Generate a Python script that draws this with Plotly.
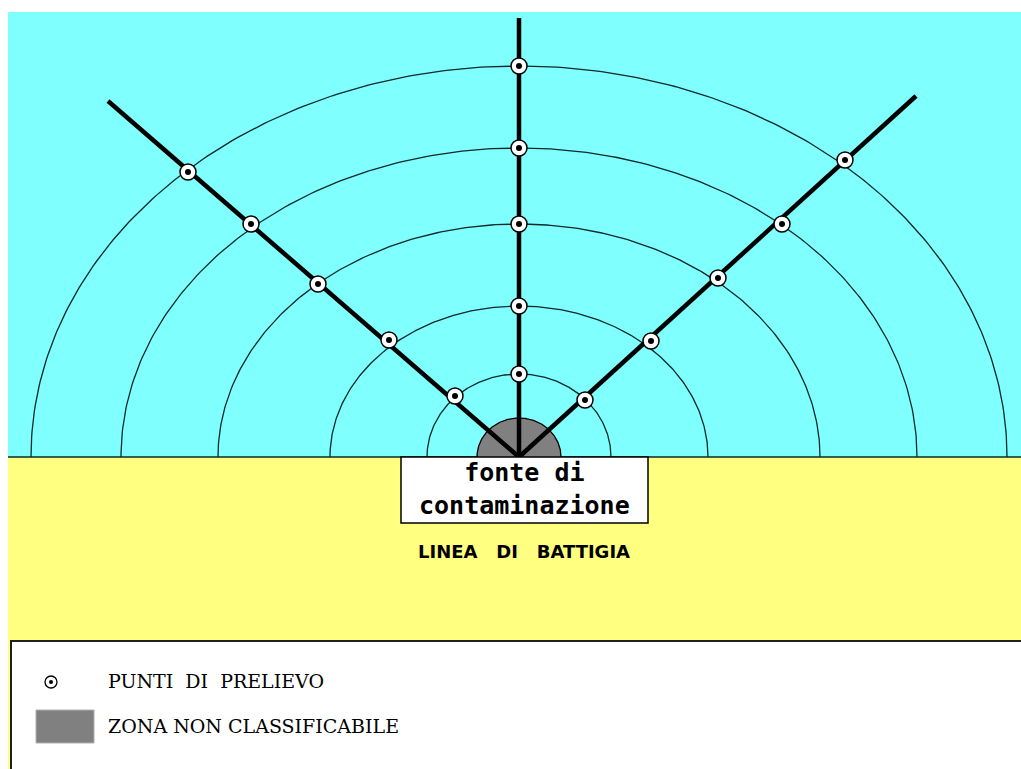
import numpy as np
import plotly.graph_objects as go

# ---- data (pixel-like units, origin at the contamination source, y upward) ----
arc_radius_x = [92, 189, 301, 398, 488]
arc_radius_y = [83, 151, 233, 309, 391]

ray_names = ["sinistra", "centro", "destra"]
ray_end_x = [-411, 0, 397]
ray_end_y = [356, 439, 361]

sample_x = [-64, -130, -201, -268, -331,
            0, 0, 0, 0, 0,
            66, 132, 199, 263, 326]
sample_y = [61, 117, 173, 233, 285,
            83, 151, 233, 309, 391,
            57, 116, 179, 233, 297]

zone_radius_x = 42
zone_radius_y = 39

source_label = "fonte di<br>contaminazione"
shore_label = "LINEA   DI   BATTIGIA"
legend_labels = ["PUNTI\u00a0\u00a0DI\u00a0\u00a0PRELIEVO", "ZONA NON CLASSIFICABILE"]

CYAN = "#80FFFF"
YELLOW = "#FFFF80"
GREY = "#808080"

fig = go.Figure()

# arcs
t = np.linspace(0, np.pi, 241)
for rx, ry in zip(arc_radius_x, arc_radius_y):
    fig.add_trace(go.Scatter(x=rx * np.cos(t), y=ry * np.sin(t), mode="lines",
                             line=dict(color="#0a2a2a", width=1.3),
                             hoverinfo="skip", showlegend=False))

# non-classifiable zone
fig.add_trace(go.Scatter(x=zone_radius_x * np.cos(t), y=zone_radius_y * np.sin(t),
                         mode="lines", fill="toself", fillcolor=GREY,
                         line=dict(color="black", width=1.3),
                         hoverinfo="skip", showlegend=False))

# rays
for ex, ey in zip(ray_end_x, ray_end_y):
    fig.add_trace(go.Scatter(x=[0, ex], y=[0, ey], mode="lines",
                             line=dict(color="black", width=4.5),
                             hoverinfo="skip", showlegend=False))

# sampling points
fig.add_trace(go.Scatter(x=sample_x, y=sample_y, mode="markers",
                         marker=dict(symbol="circle", size=16, color="white",
                                     line=dict(color="black", width=1.5)),
                         hoverinfo="skip", showlegend=False))
fig.add_trace(go.Scatter(x=sample_x, y=sample_y, mode="markers",
                         marker=dict(symbol="circle", size=6, color="black"),
                         hoverinfo="skip", showlegend=False))

# legend symbol (point)
fig.add_trace(go.Scatter(x=[-468], y=[-225], mode="markers",
                         marker=dict(symbol="circle", size=12, color="white",
                                     line=dict(color="black", width=1.3)),
                         hoverinfo="skip", showlegend=False))
fig.add_trace(go.Scatter(x=[-468], y=[-225], mode="markers",
                         marker=dict(symbol="circle", size=4, color="black"),
                         hoverinfo="skip", showlegend=False))

shapes = [
    # sea
    dict(type="rect", x0=-511, x1=510, y0=0, y1=445, fillcolor=CYAN,
         line=dict(width=0), layer="below"),
    # beach
    dict(type="rect", x0=-511, x1=510, y0=-320, y1=0, fillcolor=YELLOW,
         line=dict(width=0), layer="below"),
    # legend box
    dict(type="rect", x0=-508, x1=520, y0=-330, y1=-184, fillcolor="white",
         line=dict(color="#202020", width=2), layer="below"),
    # shoreline
    dict(type="line", x0=-511, x1=510, y0=0, y1=0,
         line=dict(color="#0a2a2a", width=1.5), layer="below"),
    # label box
    dict(type="rect", x0=-118, x1=129, y0=-66, y1=0, fillcolor="white",
         line=dict(color="black", width=1.5), layer="above"),
    # legend grey swatch
    dict(type="rect", x0=-483, x1=-425, y0=-286, y1=-253, fillcolor=GREY,
         line=dict(color="#b0b0b0", width=1), layer="above"),
]

annotations = [
    dict(x=5, y=-32, text="<b>" + source_label + "</b>", showarrow=False,
         font=dict(family="DejaVu Sans Mono", size=25, color="black"),
         xanchor="center", yanchor="middle", align="center"),
    dict(x=5, y=-94, text="<b>" + shore_label + "</b>", showarrow=False,
         font=dict(family="DejaVu Sans", size=18, color="black"),
         xanchor="center", yanchor="middle"),
    dict(x=-413, y=-224, text=legend_labels[0], showarrow=False,
         font=dict(family="DejaVu Serif", size=19, color="black"),
         xanchor="left", yanchor="middle"),
    dict(x=-413, y=-269, text=legend_labels[1], showarrow=False,
         font=dict(family="DejaVu Serif", size=19, color="black"),
         xanchor="left", yanchor="middle"),
]

# full-window figure (page body margin removed below)
fig.update_layout(
    width=1021, height=769,
    margin=dict(l=0, r=0, t=0, b=0, pad=0),
    paper_bgcolor="white", plot_bgcolor="white",
    xaxis=dict(range=[-519, 502], visible=False, fixedrange=True),
    yaxis=dict(range=[-312, 457], visible=False, fixedrange=True),
    shapes=shapes, annotations=annotations,
    showlegend=False,
)

fig.write_html("out.html", config={"displayModeBar": False},
               post_script=["document.body.style.margin='0px';"
                            "document.body.style.overflow='hidden';"])
